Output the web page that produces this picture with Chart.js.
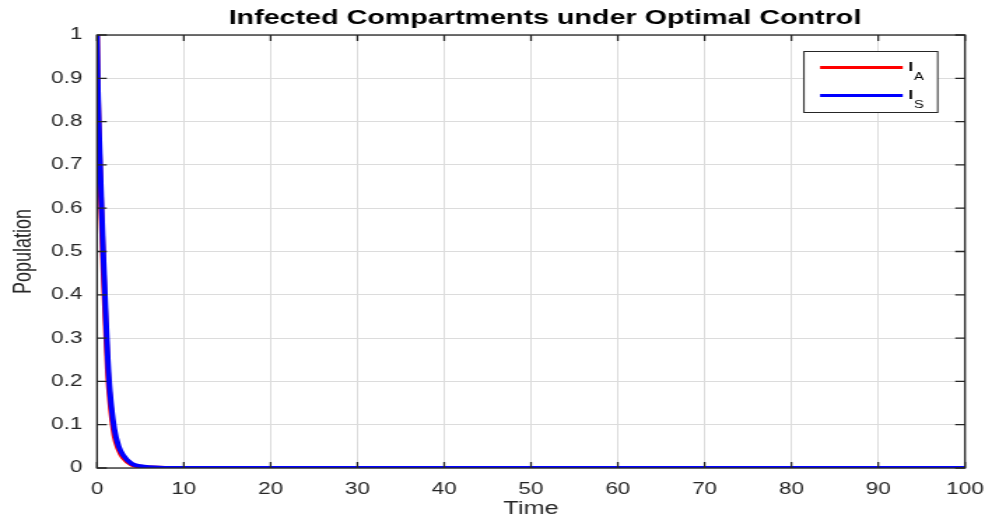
<!DOCTYPE html>
<html>
<head>
<meta charset="utf-8">
<script src="https://cdn.jsdelivr.net/npm/chart.js@4/dist/chart.umd.min.js"></script>
<style>
html,body{margin:0;padding:0;background:#fff;overflow:hidden;}
#wrap{width:704px;height:521px;position:absolute;left:0;top:0;transform:scaleX(1.39915);transform-origin:0 0;}
canvas{display:block;}
</style>
</head>
<body>
<div id="wrap"><canvas id="c" width="704" height="521"></canvas></div>
<script>
const chartTitle = "Infected Compartments under Optimal Control";
const xAxisTitle = "Time";
const yAxisTitle = "Population";
const timeValues = [0, 0.1, 0.25, 0.5, 0.75, 1, 1.25, 1.5, 2, 2.5, 3, 4, 5, 6, 8, 10, 20, 30, 40, 50, 60, 70, 80, 90, 100];
const infectedA  = [1, 0.86, 0.74, 0.59, 0.45, 0.33, 0.22, 0.155, 0.075, 0.042, 0.024, 0.008, 0.003, 0.001, 0, 0, 0, 0, 0, 0, 0, 0, 0, 0, 0];
const infectedS  = [1, 0.88, 0.77, 0.62, 0.48, 0.36, 0.25, 0.175, 0.09, 0.05, 0.03, 0.01, 0.004, 0.0015, 0.0002, 0, 0, 0, 0, 0, 0, 0, 0, 0, 0];
const xTickValues = [0, 10, 20, 30, 40, 50, 60, 70, 80, 90, 100];
const yTickValues = [0, 0.1, 0.2, 0.3, 0.4, 0.5, 0.6, 0.7, 0.8, 0.9, 1];
const seriesNames = [["I", "A"], ["I", "S"]];

const axisColor = "#262626";
const fontFam = "'Liberation Sans', Arial, Helvetica, sans-serif";

const boxPlugin = {
  id: "boxTicks",
  afterDraw(chart) {
    const ctx = chart.ctx;
    const a = chart.chartArea;
    const xs = chart.scales.x, ys = chart.scales.y;
    ctx.save();
    // title
    ctx.fillStyle = "#000";
    ctx.font = "bold 20.5px " + fontFam;
    ctx.textAlign = "center";
    ctx.textBaseline = "middle";
    ctx.fillText(chartTitle, 389.5, 18);

    ctx.strokeStyle = axisColor;
    ctx.lineWidth = 1.3;
    ctx.strokeRect(a.left, a.top, a.right - a.left, a.bottom - a.top);
    ctx.beginPath();
    xTickValues.forEach(v => {
      const px = xs.getPixelForValue(v);
      ctx.moveTo(px, a.bottom); ctx.lineTo(px, a.bottom - 6);
      ctx.moveTo(px, a.top); ctx.lineTo(px, a.top + 6);
    });
    yTickValues.forEach(v => {
      const py = ys.getPixelForValue(v);
      ctx.moveTo(a.left, py); ctx.lineTo(a.left + 7, py);
      ctx.moveTo(a.right, py); ctx.lineTo(a.right - 7, py);
    });
    ctx.stroke();

    // legend box
    const lx = 574.6, ly = 51.5, lw = 95.6, lh = 61;
    ctx.fillStyle = "#fff";
    ctx.fillRect(lx, ly, lw, lh);
    ctx.strokeStyle = "#262626";
    ctx.lineWidth = 1;
    ctx.strokeRect(lx, ly, lw, lh);
    chart.data.datasets.forEach((ds, i) => {
      const y = ly + 16 + i * 28;
      ctx.strokeStyle = ds.borderColor;
      ctx.lineWidth = 3;
      ctx.beginPath();
      ctx.moveTo(586.1, y); ctx.lineTo(645.2, y);
      ctx.stroke();
      ctx.fillStyle = "#000";
      ctx.textBaseline = "alphabetic";
      ctx.textAlign = "left";
      ctx.font = "bold 12px " + fontFam;
      ctx.fillText(seriesNames[i][0], 649.3, y + 3);
      ctx.font = "10.5px " + fontFam;
      ctx.fillText(seriesNames[i][1], 653.3, y + 12);
    });
    ctx.restore();
  }
};

const toPts = arr => timeValues.map((t, i) => ({x: t, y: arr[i]}));

new Chart(document.getElementById("c"), {
  type: "scatter",
  data: {
    datasets: [
      {label: "I_A", data: toPts(infectedA), borderColor: "#ff0000", backgroundColor: "#ff0000", order: 2,
       showLine: true, pointRadius: 0, borderWidth: 4, cubicInterpolationMode: "monotone"},
      {label: "I_S", data: toPts(infectedS), borderColor: "#0000ff", backgroundColor: "#0000ff", order: 1,
       showLine: true, pointRadius: 0, borderWidth: 4, cubicInterpolationMode: "monotone"}
    ]
  },
  options: {
    responsive: false,
    animation: false,
    devicePixelRatio: 1,
    layout: {padding: {left: 0, right: 14.3, top: 35, bottom: 0}},
    plugins: {
      legend: {display: false},
      tooltip: {enabled: false},
      title: {display: false}
    },
    scales: {
      x: {
        type: "linear", min: 0, max: 100,
        afterBuildTicks: s => { s.ticks = xTickValues.map(v => ({value: v})); },
        afterFit: s => { s.height = 53; s.paddingRight = 0; s.paddingLeft = 0; },
        grid: {color: "#dcdcdc", lineWidth: 1, drawTicks: false},
        border: {display: false},
        ticks: {color: "#262626", padding: 12, maxRotation: 0,
          font: {family: fontFam, size: 16}},
        title: {display: true, text: xAxisTitle, color: "#262626", padding: {top: 0, bottom: 1},
          font: {family: fontFam, size: 18}}
      },
      y: {
        type: "linear", min: 0, max: 1,
        afterBuildTicks: s => { s.ticks = yTickValues.map(v => ({value: v})); },
        afterFit: s => { s.width = 69.33; s.paddingTop = 0; s.paddingBottom = 0; },
        grid: {color: "#dcdcdc", lineWidth: 1, drawTicks: false},
        border: {display: false},
        ticks: {color: "#262626", padding: 10.5,
          callback: v => String(v),
          font: {family: fontFam, size: 16}},
        title: {display: true, text: yAxisTitle, color: "#262626", padding: {top: 6, bottom: 0},
          font: {family: fontFam, size: 18}}
      }
    }
  },
  plugins: [boxPlugin]
});
</script>
</body>
</html>
